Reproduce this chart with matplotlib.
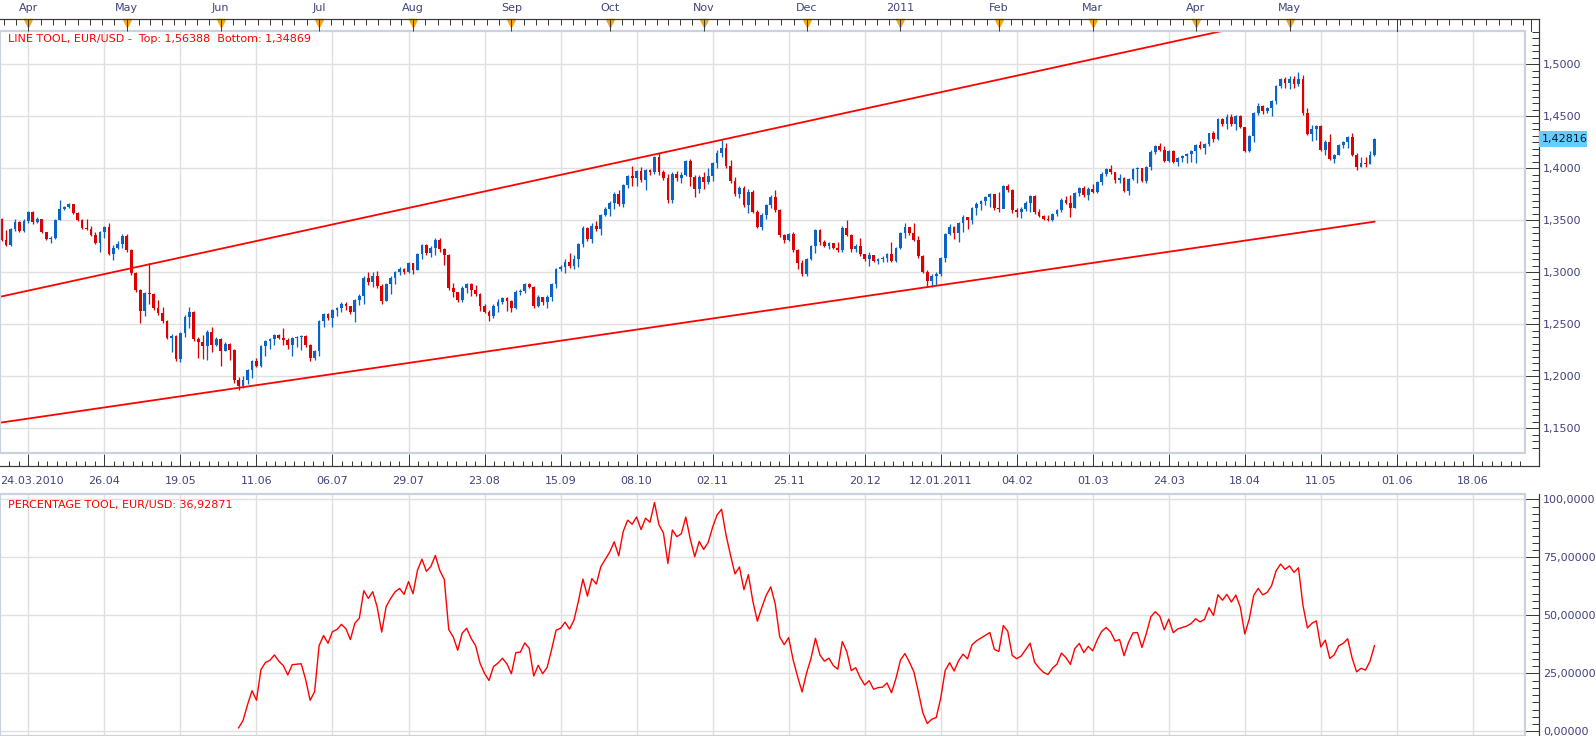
import numpy as np
import matplotlib
matplotlib.use("Agg")
import matplotlib.pyplot as plt
import matplotlib.transforms as mtrans
from matplotlib.patches import Rectangle
from matplotlib.lines import Line2D
from matplotlib.ticker import MultipleLocator, FixedLocator

# EUR/USD daily candles, bar index 0..307 (open of a bar = previous close)
first_open = 1.351
closes = [
    1.331, 1.326, 1.342, 1.348, 1.340, 1.349, 1.358, 1.348, 1.351, 1.339,
    1.332, 1.333, 1.350, 1.361, 1.363, 1.366, 1.357, 1.350, 1.343, 1.342,
    1.336, 1.328, 1.339, 1.344, 1.318, 1.323, 1.327, 1.335, 1.321, 1.299,
    1.283, 1.263, 1.280, 1.279, 1.266, 1.261, 1.253, 1.237, 1.239, 1.217,
    1.242, 1.257, 1.262, 1.236, 1.233, 1.229, 1.243, 1.230, 1.236, 1.224,
    1.231, 1.225, 1.196, 1.191, 1.196, 1.206, 1.215, 1.210, 1.229, 1.234,
    1.236, 1.240, 1.237, 1.235, 1.230, 1.237, 1.238, 1.239, 1.230, 1.218,
    1.224, 1.253, 1.260, 1.256, 1.264, 1.266, 1.270, 1.268, 1.262, 1.273,
    1.277, 1.295, 1.291, 1.296, 1.287, 1.272, 1.289, 1.295, 1.300, 1.303,
    1.300, 1.309, 1.302, 1.318, 1.326, 1.319, 1.323, 1.331, 1.322, 1.317,
    1.285, 1.281, 1.273, 1.285, 1.289, 1.283, 1.279, 1.268, 1.262, 1.258,
    1.268, 1.271, 1.275, 1.272, 1.266, 1.281, 1.282, 1.289, 1.286, 1.268,
    1.276, 1.271, 1.276, 1.289, 1.303, 1.305, 1.310, 1.306, 1.313, 1.327,
    1.343, 1.332, 1.345, 1.342, 1.355, 1.361, 1.367, 1.375, 1.366, 1.384,
    1.393, 1.391, 1.397, 1.389, 1.398, 1.396, 1.411, 1.396, 1.391, 1.370,
    1.395, 1.391, 1.394, 1.407, 1.392, 1.380, 1.392, 1.387, 1.393, 1.405,
    1.415, 1.420, 1.402, 1.388, 1.375, 1.381, 1.365, 1.377, 1.358, 1.344,
    1.355, 1.365, 1.372, 1.360, 1.336, 1.331, 1.337, 1.321, 1.309, 1.298,
    1.313, 1.325, 1.341, 1.329, 1.325, 1.328, 1.323, 1.321, 1.343, 1.336,
    1.322, 1.325, 1.318, 1.313, 1.317, 1.311, 1.313, 1.314, 1.318, 1.311,
    1.323, 1.338, 1.344, 1.338, 1.331, 1.316, 1.300, 1.292, 1.296, 1.298,
    1.314, 1.337, 1.344, 1.338, 1.347, 1.353, 1.350, 1.362, 1.366, 1.369,
    1.372, 1.375, 1.362, 1.361, 1.383, 1.379, 1.360, 1.358, 1.361, 1.367,
    1.373, 1.358, 1.354, 1.351, 1.350, 1.356, 1.360, 1.370, 1.367, 1.362,
    1.376, 1.381, 1.374, 1.380, 1.377, 1.387, 1.395, 1.399, 1.396, 1.389,
    1.391, 1.378, 1.390, 1.399, 1.400, 1.388, 1.401, 1.416, 1.421, 1.418,
    1.407, 1.417, 1.406, 1.410, 1.412, 1.414, 1.417, 1.422, 1.420, 1.423,
    1.434, 1.428, 1.447, 1.443, 1.449, 1.443, 1.450, 1.440, 1.417, 1.431,
    1.453, 1.460, 1.455, 1.458, 1.465, 1.479, 1.486, 1.482, 1.486, 1.481,
    1.486, 1.453, 1.433, 1.438, 1.441, 1.418, 1.425, 1.409, 1.413, 1.422,
    1.425, 1.430, 1.413, 1.401, 1.405, 1.404, 1.413, 1.42816,
]
highs = [
    1.352, 1.341, 1.343, 1.351, 1.349, 1.351, 1.359, 1.359, 1.353, 1.351,
    1.339, 1.335, 1.351, 1.370, 1.364, 1.367, 1.366, 1.358, 1.351, 1.351,
    1.345, 1.339, 1.340, 1.345, 1.347, 1.326, 1.330, 1.337, 1.337, 1.322,
    1.300, 1.284, 1.281, 1.309, 1.280, 1.273, 1.267, 1.254, 1.241, 1.240,
    1.243, 1.259, 1.267, 1.263, 1.238, 1.240, 1.245, 1.247, 1.238, 1.237,
    1.233, 1.232, 1.226, 1.199, 1.200, 1.207, 1.216, 1.218, 1.230, 1.235,
    1.237, 1.241, 1.241, 1.246, 1.237, 1.238, 1.239, 1.240, 1.240, 1.231,
    1.225, 1.254, 1.261, 1.261, 1.265, 1.267, 1.271, 1.271, 1.268, 1.274,
    1.279, 1.296, 1.300, 1.300, 1.301, 1.289, 1.290, 1.296, 1.301, 1.305,
    1.304, 1.310, 1.309, 1.319, 1.327, 1.327, 1.325, 1.333, 1.333, 1.323,
    1.318, 1.290, 1.280, 1.287, 1.290, 1.290, 1.288, 1.280, 1.270, 1.264,
    1.270, 1.274, 1.276, 1.276, 1.273, 1.283, 1.284, 1.290, 1.290, 1.287,
    1.278, 1.276, 1.278, 1.290, 1.304, 1.307, 1.313, 1.319, 1.317, 1.328,
    1.345, 1.344, 1.347, 1.349, 1.356, 1.363, 1.369, 1.377, 1.379, 1.385,
    1.394, 1.402, 1.398, 1.401, 1.399, 1.399, 1.412, 1.415, 1.398, 1.395,
    1.396, 1.397, 1.396, 1.408, 1.409, 1.394, 1.394, 1.396, 1.400, 1.406,
    1.418, 1.427, 1.424, 1.408, 1.392, 1.383, 1.383, 1.380, 1.379, 1.360,
    1.357, 1.366, 1.374, 1.379, 1.361, 1.337, 1.338, 1.339, 1.322, 1.312,
    1.314, 1.326, 1.342, 1.342, 1.331, 1.329, 1.328, 1.329, 1.345, 1.350,
    1.337, 1.327, 1.333, 1.318, 1.320, 1.317, 1.314, 1.316, 1.319, 1.329,
    1.324, 1.339, 1.347, 1.344, 1.347, 1.335, 1.317, 1.302, 1.298, 1.300,
    1.315, 1.338, 1.346, 1.345, 1.348, 1.355, 1.353, 1.363, 1.368, 1.370,
    1.373, 1.376, 1.375, 1.377, 1.384, 1.385, 1.380, 1.362, 1.363, 1.369,
    1.374, 1.374, 1.361, 1.355, 1.355, 1.357, 1.361, 1.371, 1.373, 1.374,
    1.377, 1.382, 1.383, 1.382, 1.385, 1.388, 1.396, 1.400, 1.403, 1.396,
    1.395, 1.392, 1.391, 1.400, 1.401, 1.400, 1.402, 1.418, 1.422, 1.424,
    1.421, 1.418, 1.418, 1.411, 1.413, 1.415, 1.418, 1.423, 1.426, 1.424,
    1.434, 1.436, 1.448, 1.448, 1.452, 1.452, 1.451, 1.451, 1.440, 1.432,
    1.454, 1.463, 1.461, 1.459, 1.466, 1.480, 1.487, 1.488, 1.489, 1.489,
    1.493, 1.490, 1.458, 1.442, 1.442, 1.442, 1.427, 1.433, 1.414, 1.423,
    1.426, 1.431, 1.434, 1.415, 1.411, 1.411, 1.417, 1.429,
]
lows = [
    1.330, 1.325, 1.325, 1.340, 1.339, 1.339, 1.347, 1.346, 1.347, 1.338,
    1.331, 1.328, 1.332, 1.350, 1.360, 1.362, 1.356, 1.349, 1.342, 1.341,
    1.335, 1.327, 1.320, 1.333, 1.317, 1.312, 1.322, 1.323, 1.320, 1.297,
    1.281, 1.251, 1.258, 1.270, 1.264, 1.259, 1.251, 1.236, 1.223, 1.215,
    1.214, 1.238, 1.246, 1.234, 1.218, 1.217, 1.216, 1.223, 1.229, 1.210,
    1.224, 1.216, 1.194, 1.187, 1.189, 1.193, 1.198, 1.209, 1.209, 1.220,
    1.226, 1.230, 1.236, 1.230, 1.226, 1.220, 1.228, 1.225, 1.228, 1.215,
    1.216, 1.220, 1.247, 1.254, 1.247, 1.258, 1.262, 1.264, 1.260, 1.252,
    1.269, 1.270, 1.288, 1.286, 1.285, 1.270, 1.272, 1.279, 1.289, 1.297,
    1.298, 1.299, 1.298, 1.302, 1.313, 1.317, 1.315, 1.317, 1.320, 1.307,
    1.283, 1.276, 1.271, 1.271, 1.280, 1.277, 1.277, 1.263, 1.261, 1.253,
    1.256, 1.262, 1.270, 1.263, 1.262, 1.265, 1.278, 1.280, 1.285, 1.266,
    1.267, 1.269, 1.266, 1.272, 1.285, 1.301, 1.299, 1.304, 1.303, 1.305,
    1.324, 1.330, 1.328, 1.340, 1.336, 1.354, 1.354, 1.361, 1.364, 1.363,
    1.381, 1.383, 1.383, 1.387, 1.379, 1.394, 1.395, 1.394, 1.389, 1.367,
    1.367, 1.388, 1.386, 1.393, 1.383, 1.372, 1.376, 1.380, 1.385, 1.388,
    1.400, 1.411, 1.400, 1.386, 1.373, 1.371, 1.363, 1.357, 1.357, 1.343,
    1.341, 1.351, 1.362, 1.358, 1.334, 1.328, 1.330, 1.320, 1.303, 1.296,
    1.296, 1.312, 1.319, 1.326, 1.324, 1.322, 1.322, 1.320, 1.320, 1.335,
    1.320, 1.320, 1.316, 1.311, 1.306, 1.310, 1.308, 1.310, 1.310, 1.310,
    1.310, 1.322, 1.333, 1.336, 1.330, 1.314, 1.299, 1.287, 1.286, 1.288,
    1.296, 1.310, 1.336, 1.332, 1.329, 1.339, 1.342, 1.346, 1.355, 1.360,
    1.365, 1.363, 1.360, 1.358, 1.368, 1.377, 1.357, 1.353, 1.352, 1.359,
    1.358, 1.356, 1.353, 1.350, 1.349, 1.349, 1.354, 1.358, 1.366, 1.353,
    1.362, 1.373, 1.372, 1.370, 1.376, 1.376, 1.384, 1.393, 1.395, 1.386,
    1.386, 1.377, 1.374, 1.389, 1.386, 1.387, 1.386, 1.398, 1.414, 1.417,
    1.406, 1.406, 1.405, 1.402, 1.406, 1.405, 1.406, 1.405, 1.419, 1.414,
    1.421, 1.425, 1.427, 1.441, 1.438, 1.441, 1.437, 1.439, 1.416, 1.416,
    1.425, 1.451, 1.452, 1.453, 1.450, 1.462, 1.477, 1.477, 1.476, 1.477,
    1.479, 1.451, 1.432, 1.426, 1.427, 1.417, 1.413, 1.408, 1.405, 1.413,
    1.420, 1.420, 1.412, 1.398, 1.401, 1.401, 1.404, 1.412,
]

# line tool: (bar, price) anchors; values at the last bar are the Top/Bottom figures
top_line_pts = [(0, 1.2768), (307, 1.56388)]
bottom_line_pts = [(0, 1.1556), (307, 1.34869)]
pct_start = 53
pct_label_value = 36.92871

month_bars = [6, 28, 49, 71, 92, 114, 136, 157, 180, 201, 223, 244, 267, 288]
month_labels = ['Apr', 'May', 'Jun', 'Jul', 'Aug', 'Sep', 'Oct', 'Nov', 'Dec',
                '2011', 'Feb', 'Mar', 'Apr', 'May']
date_labels = ['24.03.2010', '26.04', '19.05', '11.06', '06.07', '29.07', '23.08',
               '15.09', '08.10', '02.11', '25.11', '20.12', '12.01.2011', '04.02',
               '01.03', '24.03', '18.04', '11.05', '01.06', '18.06']
date_first_bar, date_step = 6, 17
price_ticks = [1.15, 1.20, 1.25, 1.30, 1.35, 1.40, 1.45, 1.50]
pct_ticks = [0, 25, 50, 75, 100]
pct_tick_labels = ['0,00000', '25,00000', '50,00000', '75,00000', '100,0000']
top_long_ticks = [312, 342]

# colours
BLUE = '#0A64C8'
RED = '#DC0000'
LINE = '#FF0000'
GRID = '#E0E0E0'
FRAME = '#C9D2DE'
AXC = '#3A3A3A'
LAB = '#42427E'
ORANGE = '#F5A31A'

W, H = 1596, 736
PX = 0.72  # points per pixel at dpi 100
fig = plt.figure(figsize=(W / 100, H / 100), dpi=100, facecolor='white')


def fx(p):
    return p / W


def fy(p):
    return 1 - p / H


ax = fig.add_axes([0, fy(453), fx(1525), (453 - 31) / H])
axp = fig.add_axes([0, 0, fx(1525), (736 - 494) / H])
x_lo, x_hi = (0 - 1.57) / 4.472, (1525 - 1.57) / 4.472


def line_vals(pts, x):
    (x1, y1), (x2, y2) = pts
    return y1 + (y2 - y1) * (np.asarray(x, dtype=float) - x1) / (x2 - x1)


c = np.array(closes)
o = np.r_[first_open, c[:-1]]
hi = np.array(highs)
lo = np.array(lows)
idx = np.arange(len(c))
col = np.where(c >= o, BLUE, RED)

# candles
ax.vlines(idx, lo, hi, colors=col, lw=1.0 * PX * 1.3, zorder=3)
body_lo = np.minimum(o, c)
body_h = np.maximum(np.abs(c - o), 0.0009)
ax.bar(idx, body_h, bottom=body_lo, width=0.62, color=col, linewidth=0, zorder=3)

# channel lines
lx = np.array([x_lo, idx[-1]])
ax.plot(lx, line_vals(top_line_pts, lx), color=LINE, lw=1.3, zorder=4)
ax.plot(lx, line_vals(bottom_line_pts, lx), color=LINE, lw=1.3, zorder=4)

# percentage position inside the channel
top_v = line_vals(top_line_pts, idx)
bot_v = line_vals(bottom_line_pts, idx)
pct = (c - bot_v) / (top_v - bot_v) * 100
axp.plot(idx[pct_start:], pct[pct_start:], color=LINE, lw=1.0, zorder=3)

# limits
ax.set_xlim(x_lo, x_hi)
ax.set_ylim(1.12625, 1.53202)
axp.set_xlim(x_lo, x_hi)
axp.set_ylim(-2.03, 102.28)

date_ticks = [date_first_bar + k * date_step for k in range(len(date_labels))]
date_minor = np.arange(date_first_bar - date_step, x_hi, date_step / 8)

for a in (ax, axp):
    for s in a.spines.values():
        s.set_visible(False)
    a.spines['right'].set_position(('outward', 14 * PX))
    a.yaxis.tick_right()
    a.set_xticks(date_ticks)
    a.grid(True, which='major', color=GRID, lw=1.0, zorder=0)
    a.set_axisbelow(True)
    a.tick_params(axis='y', which='major', direction='in', length=14 * PX, width=PX,
                  color=AXC, labelsize=8, labelcolor=LAB, pad=3)
    a.tick_params(axis='y', which='minor', direction='in', length=7 * PX, width=PX,
                  color=AXC)
    a.add_patch(Rectangle((0, 0), 1, 1, transform=a.transAxes, fill=False,
                          ec=FRAME, lw=1.6, clip_on=False, zorder=5))

# main panel axes
ax.set_yticks(price_ticks)
ax.set_yticklabels([f'{v:.4f}'.replace('.', ',') for v in price_ticks])
ax.yaxis.set_minor_locator(MultipleLocator(0.05 / 8))
ax.spines['bottom'].set_position(('outward', 13 * PX))
# first date label is drawn separately so that it starts at the left edge
ax.set_xticklabels([''] + date_labels[1:])
ax.xaxis.set_minor_locator(FixedLocator(date_minor))
ax.tick_params(axis='x', which='major', direction='in', length=12 * PX, width=PX,
               color=AXC, labelsize=8, labelcolor=LAB, pad=7)
ax.tick_params(axis='x', which='minor', direction='in', length=5.5 * PX, width=PX,
               color=AXC)
first_tr = mtrans.offset_copy(ax.transAxes, fig=fig, x=0.5 * PX, y=-(13 * PX + 7),
                              units='points')
ax.text(0, 0, date_labels[0], transform=first_tr, ha='left', va='top',
        fontsize=8, color=LAB, clip_on=False)

# lower panel axes
axp.set_yticks(pct_ticks)
axp.set_yticklabels(pct_tick_labels)
axp.yaxis.set_minor_locator(MultipleLocator(25 / 8))
axp.tick_params(axis='x', which='both', bottom=False, labelbottom=False)

# top month axis
axt = ax.twiny()
axt.set_xlim(x_lo, x_hi)
for s in axt.spines.values():
    s.set_visible(False)
axt.spines['top'].set_position(('outward', 12 * PX))
axt.set_xticks(month_bars)
axt.set_xticklabels(month_labels)
top_minor = []
for a0, a1 in zip(month_bars[:-1], month_bars[1:]):
    top_minor += list(np.linspace(a0, a1, 9)[1:-1])
top_minor += list(np.arange(month_bars[0] - 2.75, x_lo, -2.75))
top_minor += list(np.arange(month_bars[-1] + 2.75, x_hi, 2.75))
axt.xaxis.set_minor_locator(FixedLocator(top_minor))
axt.tick_params(axis='x', which='major', direction='in', length=12 * PX, width=PX,
                color=AXC, labelsize=8, labelcolor=LAB, pad=4)
axt.tick_params(axis='x', which='minor', direction='in', length=6 * PX, width=PX,
                color=AXC)
tb = mtrans.blended_transform_factory(ax.transData, fig.transFigure)
ax.plot(month_bars, [fy(23)] * len(month_bars), transform=tb, ls='none',
        marker='v', ms=6, color=ORANGE, mec=ORANGE, clip_on=False, zorder=6)
for b in top_long_ticks:
    fig.add_artist(Line2D([b, b], [fy(19), fy(31)], transform=tb, color=AXC, lw=PX))

# axis lines
for x1, y1, x2, y2 in [(0, 19, 1539, 19), (1539, 19, 1539, 466),
                       (0, 466, 1539, 466), (1539, 494, 1539, 736)]:
    fig.add_artist(Line2D([fx(x1), fx(x2)], [fy(y1), fy(y2)], color=AXC, lw=PX * 1.2))

# current price marker
bt = mtrans.blended_transform_factory(fig.transFigure, ax.transData)
last = closes[-1]
fig.add_artist(Rectangle((fx(1539), last - 0.0075), fx(48), 0.015, transform=bt,
                         fc='#66CCFF', ec='none', zorder=6))
fig.text(fx(1542), last, f'{last:.5f}'.replace('.', ','), transform=bt,
         fontsize=8, color='#151530', va='center', ha='left', zorder=7)

# tool captions
top_last = line_vals(top_line_pts, idx[-1])
bot_last = line_vals(bottom_line_pts, idx[-1])
ax.text(8 / 1525, (453 - 38.8) / 422,
        'LINE TOOL, EUR/USD -  Top: ' + f'{top_last:.5f}'.replace('.', ',')
        + '  Bottom: ' + f'{bot_last:.5f}'.replace('.', ','),
        transform=ax.transAxes, color=LINE, fontsize=8, va='center', ha='left', zorder=7)
axp.text(8 / 1525, (736 - 505) / 242,
         'PERCENTAGE TOOL, EUR/USD: ' + f'{pct_label_value:.5f}'.replace('.', ','),
         transform=axp.transAxes, color=LINE, fontsize=8, va='center', ha='left', zorder=7)

fig.savefig('out.png', dpi=100, facecolor='white')
